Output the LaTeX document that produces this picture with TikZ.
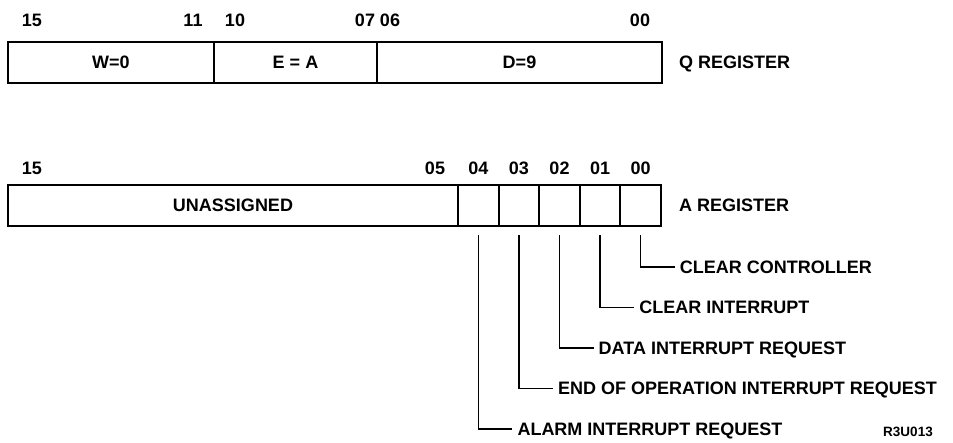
\documentclass[tikz,border=0pt]{standalone}
\usepackage{fontspec}
\setmainfont{Liberation Sans}
\usetikzlibrary{positioning}

\begin{document}
\begin{tikzpicture}[%
    x=1pt, y=-1pt,              % Work in scan units, y going down
    node distance=17pt,         % Register names sit this far right of the boxes
    line join=miter,
    ]
% -------------------------------------------------
% Box and text styles
\tikzset{
  base/.style={font=\bfseries\fontsize{18}{20}\selectfont, inner sep=0pt,
    text height=12.9pt, text depth=0pt},
  cell/.style={base, draw, line width=2pt, minimum height=41pt, outer sep=0pt},
  bitno/.style={base},
  regname/.style={base},
  % Leader lines from the bits to their meanings
  lead/.style={draw, line width=1.4pt},
  desc/.style={base, anchor=west, inner xsep=5pt},
  tag/.style={base, font=\bfseries\fontsize{13.5}{15}\selectfont, text height=9.7pt}
}
\useasboundingbox (0,0) rectangle (953,442);
% -------------------------------------------------
% Q register
\node [cell, minimum width=206pt] (qw) at (111,62.5) {W=0};
\node [cell, minimum width=163pt] (qe) at (295.5,62.5) {E = A};
\node [cell, minimum width=285pt] (qd) at (519.5,62.5) {D=9};
\node [regname, right=of qd] (qname) {Q REGISTER};
\foreach \x/\t in {32/15, 193/11, 235/10, 365/07, 390/06, 640/00}
  \node [bitno] (qb\t) at (\x,20.5) {\t};

% -------------------------------------------------
% A register
\node [cell, minimum width=450pt] (aun) at (233,205) {UNASSIGNED};
\foreach \b [count=\i from 0] in {04,03,02,01,00} {
  \node [cell, minimum width=40.6pt] (a\b) at ({478.3+40.6*\i},205) {};
  \node [bitno] (ab\b) at ({478.3+40.6*\i},168) {\b};
}
\node [bitno] (ab15) at (32,168) {15};
\node [bitno] (ab05) at (435,168) {05};
\node [regname, right=18pt of a00] (aname) {A REGISTER};

% -------------------------------------------------
% What each bit does
\foreach \b/\txt/\y [count=\i from 0] in {%
    04/ALARM INTERRUPT REQUEST/429,
    03/END OF OPERATION INTERRUPT REQUEST/388.5,
    02/DATA INTERRUPT REQUEST/348,
    01/CLEAR INTERRUPT/307.5,
    00/CLEAR CONTROLLER/267} {
  \node [desc] (d\b) at ({478.3+40.6*\i+34},\y) {\txt};
  \draw [lead] ([yshift=-9.5pt]a\b.south) |- (d\b.west);
}

\node [tag] (fig) at (908,432) {R3U013};
% -------------------------------------------------
\end{tikzpicture}
\end{document}
